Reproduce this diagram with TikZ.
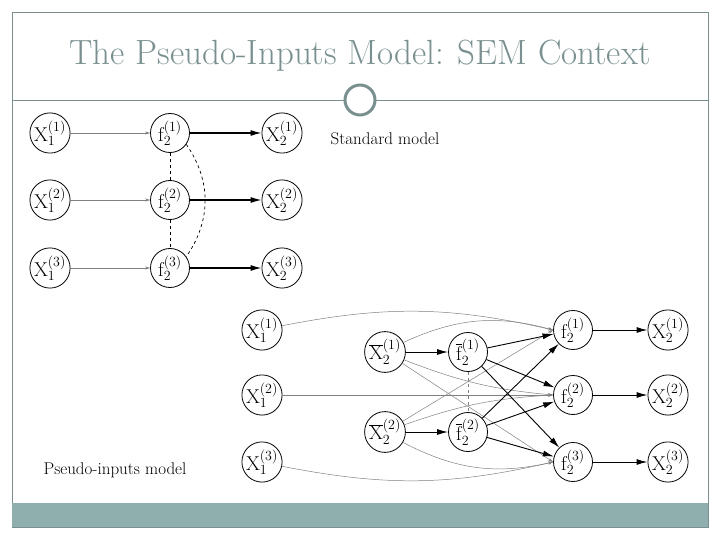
\documentclass[tikz,border=0pt]{standalone}
\usepackage{fix-cm}
\usepackage{fontspec}
\usetikzlibrary{arrows.meta}
\begin{document}
\begin{tikzpicture}[x=1pt,y=-1pt,
 v/.style={circle,draw,line width=0.8pt,minimum size=39pt,inner sep=0pt,font=\fontsize{20}{20}\selectfont},
 thin/.style={draw=gray,line width=0.5pt,-{Stealth[length=5pt,width=3pt]}},
 thick/.style={line width=1.2pt,-{Latex[length=11pt,width=6pt]}},
 dsh/.style={dashed,line width=0.7pt}]
\definecolor{teal}{HTML}{8FAEAE}
\definecolor{tt}{HTML}{7A9090}
\useasboundingbox (0,0) rectangle (720,540);
\draw[tt,line width=0.8pt] (12,12) rectangle (708,527);
\fill[teal] (12,503) rectangle (708,527);
\node[text=tt,font=\fontsize{35}{35}\selectfont] (title) at (360,56) {The Pseudo-Inputs Model: SEM Context};
\draw[tt,line width=0.8pt] (12,100) -- (344,100) (376,100) -- (708,100);
\node[circle,draw=tt,line width=3pt,minimum size=30pt] (orn) at (360,100) {};
\node[font=\fontsize{17}{17}\selectfont] (std) at (385,139) {Standard model};
\node[font=\fontsize{17}{17}\selectfont] (pim) at (115,470) {Pseudo-inputs model};
% top
\foreach \i/\y in {1/133,2/200,3/268}{
 \node[v] (a\i) at (50,\y) {$\mathrm{X}^{(\i)}_{1}$};
 \node[v] (b\i) at (170,\y) {$\mathrm{f}^{(\i)}_{2}$};
 \node[v] (c\i) at (282,\y) {$\mathrm{X}^{(\i)}_{2}$};
 \draw[thin] (a\i) -- (b\i);
 \draw[thick] (b\i) -- (c\i);
}
\draw[dsh] (b1) -- (b2);
\draw[dsh] (b2) -- (b3);
\draw[dsh] (b1.-35) to[bend left=35] (b3.35);
% bottom
\foreach \i/\y in {1/330,2/395,3/462}{
 \node[v] (p\i) at (262,\y) {$\mathrm{X}^{(\i)}_{1}$};
 \node[v] (q\i) at (573,\y) {$\mathrm{f}^{(\i)}_{2}$};
 \node[v] (r\i) at (668,\y) {$\mathrm{X}^{(\i)}_{2}$};
 \draw[thick,line width=1pt] (q\i) -- (r\i);
}
\node[v] (u1) at (385,352) {$\overline{\mathrm{X}}^{(1)}_{2}$};
\node[v] (u2) at (385,432) {$\overline{\mathrm{X}}^{(2)}_{2}$};
\node[v] (w1) at (468,352) {$\overline{\mathrm{f}}^{(1)}_{2}$};
\node[v] (w2) at (468,432) {$\overline{\mathrm{f}}^{(2)}_{2}$};
\draw[thick,line width=1pt] (u1) -- (w1);
\draw[thick,line width=1pt] (u2) -- (w2);
\draw[dsh,gray] (w1) -- (w2);
\draw[thin] (p1) to[bend left=12] (q1.west);
\draw[thin] (p2) -- (q2);
\draw[thin] (p3) to[bend right=12] (q3.west);
\draw[thin] (u1) to[bend left=20] (q1.west);
\draw[thin] (u1) to[bend right=8] (q2.west);
\draw[thin] (u1) -- (q3.west);
\draw[thin] (u2) -- (q1.west);
\draw[thin] (u2) to[bend left=8] (q2.west);
\draw[thin] (u2) to[bend right=20] (q3.west);
\foreach \j in {1,2}\foreach \k in {1,2,3}
 \draw[thick,line width=0.9pt] (w\j) -- (q\k);
\end{tikzpicture}
\end{document}
